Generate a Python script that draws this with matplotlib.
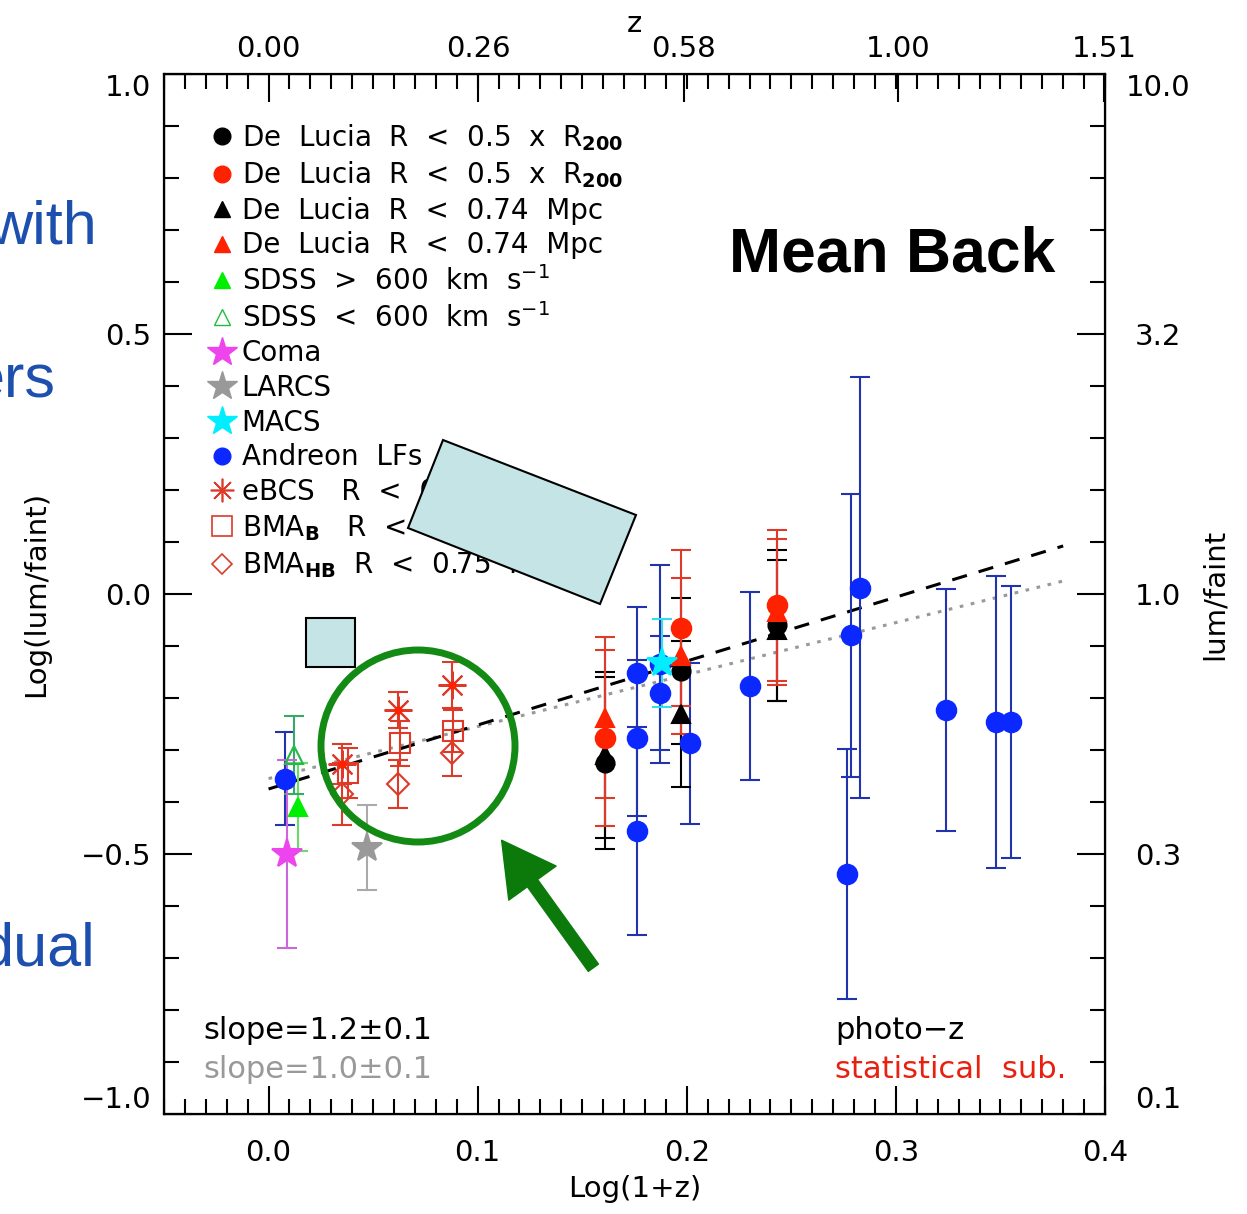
import numpy as np
import matplotlib
matplotlib.use("Agg")
import matplotlib.pyplot as plt
from matplotlib.lines import Line2D
from matplotlib import patches
from matplotlib.ticker import MultipleLocator, FixedLocator

plt.rcParams['font.family'] = 'DejaVu Sans'
plt.rcParams['mathtext.fontset'] = 'dejavusans'

# ---- data ----
# De Lucia clusters (photo-z)
dl_x = [0.161, 0.197, 0.243]
dl_r05_black = [-0.325, -0.148, -0.060]
dl_r05_black_err = [0.165, 0.140, 0.145]
dl_r05_red = [-0.277, -0.065, -0.022]
dl_r05_red_err = [0.170, 0.150, 0.145]
dl_074_black = [-0.310, -0.231, -0.070]
dl_074_black_err = [0.160, 0.140, 0.135]
dl_074_red = [-0.238, -0.119, -0.035]
dl_074_red_err = [0.155, 0.150, 0.140]

# SDSS
sdss_hi_x, sdss_hi_y, sdss_hi_err = [0.014], [-0.410], [0.085]
sdss_lo_x, sdss_lo_y, sdss_lo_err = [0.012], [-0.310], [0.075]

# single clusters
coma_x, coma_y, coma_err = [0.009], [-0.500], [0.180]
larcs_x, larcs_y, larcs_err = [0.047], [-0.488], [0.082]
macs_x, macs_y, macs_err = [0.188], [-0.133], [0.085]

# Andreon LFs
andr_x = [0.008, 0.176, 0.176, 0.176, 0.187, 0.187, 0.2015, 0.230,
          0.2765, 0.2785, 0.283, 0.324, 0.348, 0.355]
andr_y = [-0.355, -0.152, -0.277, -0.456, -0.135, -0.190, -0.287, -0.177,
          -0.538, -0.079, 0.012, -0.223, -0.246, -0.246]
andr_err = [0.090, 0.127, 0.150, 0.200, 0.190, 0.110, 0.155, 0.180,
            0.240, 0.272, 0.405, 0.233, 0.280, 0.262]

# eBCS / BMA stacks
ebcs_x = [0.035, 0.062, 0.0876]
ebcs_y = [-0.327, -0.223, -0.175]
ebcs_err = [0.038, 0.035, 0.045]
bmab_x = [0.038, 0.063, 0.088]
bmab_y = [-0.344, -0.287, -0.263]
bmab_err = [0.048, 0.043, 0.040]
bmahb_x = [0.035, 0.062, 0.0876]
bmahb_y = [-0.385, -0.366, -0.306]
bmahb_err = [0.060, 0.046, 0.044]

# fits
fit_x = [0.0, 0.38]
fit_all = (-0.375, 1.23)
fit_grey = (-0.355, 1.0)

z_ticks = [0.00, 0.26, 0.58, 1.00, 1.51]
ratio_labels = ['0.1', '0.3', '1.0', '3.2', '10.0']

W, H = 1247, 1214
fig = plt.figure(figsize=(W / 100, H / 100), dpi=100)
ax = fig.add_axes([164 / W, 1 - 1114 / H, 941 / W, 1040 / H])

RED = '#ff2200'
RED_E = '#dd3a2a'
BLUE = '#0a28ff'
BLUE_E = '#2233b0'


def pts(x, y, err, marker, mc, ec, ms=14, mfc=None, z=3, mew=1.5):
    ax.errorbar(x, y, yerr=err, ls='none', marker=marker, color=mc, ecolor=ec, ms=ms,
                mfc=mc if mfc is None else mfc, mec=mc, mew=mew,
                elinewidth=1.5, capsize=7, capthick=1.5, zorder=z)


# fit lines
xx = np.array(fit_x)
ax.plot(xx, fit_grey[0] + fit_grey[1] * xx, ls=(0, (1.2, 2.5)), color='#999999', lw=2.2, zorder=2)
ax.plot(xx, fit_all[0] + fit_all[1] * xx, ls=(0, (5, 4)), color='black', lw=2.2, zorder=2)

pts(andr_x, andr_y, andr_err, 'o', BLUE, BLUE_E, ms=14)
pts(dl_x, dl_074_black, dl_074_black_err, '^', 'black', 'black', ms=13)
pts(dl_x, dl_r05_black, dl_r05_black_err, 'o', 'black', 'black', ms=13)
pts(dl_x, dl_074_red, dl_074_red_err, '^', RED, RED_E, ms=13)
pts(dl_x, dl_r05_red, dl_r05_red_err, 'o', RED, RED_E, ms=14)
pts(sdss_hi_x, sdss_hi_y, sdss_hi_err, '^', '#00ee00', '#66dd66', ms=13)
pts(sdss_lo_x, sdss_lo_y, sdss_lo_err, '^', '#22bb44', '#33aa66', ms=13, mfc='none')
pts(coma_x, coma_y, coma_err, '*', '#ee44ee', '#cc66dd', ms=22)
pts(larcs_x, larcs_y, larcs_err, '*', '#999999', '#aaaaaa', ms=22)
pts(macs_x, macs_y, macs_err, '*', '#00eeff', '#33ddee', ms=22)
pts(ebcs_x, ebcs_y, ebcs_err, (8, 2, 0), RED_E, RED_E, ms=20)
ax.plot(ebcs_x, ebcs_y, 'o', color=RED, ms=5, zorder=4)
pts(bmab_x, bmab_y, bmab_err, 's', RED_E, RED_E, ms=14, mfc='none')
pts(bmahb_x, bmahb_y, bmahb_err, 'D', RED_E, RED_E, ms=11, mfc='none')

ax.set_xlim(-0.05, 0.4)
ax.set_ylim(-1.0, 1.0)
ax.xaxis.set_major_locator(MultipleLocator(0.1))
ax.xaxis.set_minor_locator(MultipleLocator(0.01))
ax.yaxis.set_major_locator(FixedLocator([-1.0, -0.5, 0.0, 0.5, 1.0]))
ax.yaxis.set_minor_locator(MultipleLocator(0.1))
ax.xaxis.set_major_formatter(plt.FuncFormatter(lambda v, p: f'{v:.1f}'.replace('-', '\u2212')))
ax.yaxis.set_major_formatter(plt.FuncFormatter(lambda v, p: f'{v:.1f}'.replace('-', '\u2212')))
ax.tick_params(which='major', direction='in', length=20, width=1.5, labelsize=21)
ax.tick_params(which='minor', direction='in', length=11, width=1.5)
ax.tick_params(axis='x', pad=18)
ax.tick_params(axis='y', pad=9)
for s in ax.spines.values():
    s.set_linewidth(1.6)
ax.set_xlabel('Log(1+z)', fontsize=21, labelpad=6)
ax.set_ylabel('Log(lum/faint)', fontsize=21, labelpad=22)

# top axis: redshift
axt = ax.twiny()
axt.set_xlim(ax.get_xlim())
axt.xaxis.set_major_locator(FixedLocator(np.log10(1 + np.array(z_ticks))))
axt.set_xticklabels([f'{z:.2f}' for z in z_ticks])
axt.xaxis.set_minor_locator(MultipleLocator(0.01))
axt.tick_params(which='major', direction='in', length=20, width=1.5, labelsize=21, pad=8)
axt.tick_params(which='minor', direction='in', length=11, width=1.5)
axt.set_xlabel('z', fontsize=21, labelpad=2)

# right axis: lum/faint
axr = ax.twinx()
axr.set_ylim(ax.get_ylim())
axr.yaxis.set_major_locator(FixedLocator([-1.0, -0.5, 0.0, 0.5, 1.0]))
axr.set_yticklabels(ratio_labels, ha='center')
axr.yaxis.set_minor_locator(MultipleLocator(0.1))
axr.tick_params(which='major', direction='in', length=20, width=1.5, labelsize=21, pad=38)
axr.tick_params(which='minor', direction='in', length=11, width=1.5)
axr.set_ylabel('lum/faint', fontsize=21, labelpad=8)

# end labels sit inside the axis range, as IDL draws them
for a, attr in [(ax, 'label1'), (axr, 'label2')]:
    ticks = a.yaxis.get_major_ticks()
    getattr(ticks[0], attr).set_va('bottom')
    getattr(ticks[-1], attr).set_va('top')

# legend
handles = [
    Line2D([], [], ls='none', marker='o', color='black', ms=12),
    Line2D([], [], ls='none', marker='o', color=RED, ms=12),
    Line2D([], [], ls='none', marker='^', color='black', ms=12),
    Line2D([], [], ls='none', marker='^', color=RED, ms=12),
    Line2D([], [], ls='none', marker='^', color='#00ee00', ms=12),
    Line2D([], [], ls='none', marker='^', color='#22bb44', mfc='none', ms=12),
    Line2D([], [], ls='none', marker='*', color='#ee44ee', ms=22),
    Line2D([], [], ls='none', marker='*', color='#999999', ms=22),
    Line2D([], [], ls='none', marker='*', color='#00eeff', ms=22),
    Line2D([], [], ls='none', marker='o', color=BLUE, ms=12),
    Line2D([], [], ls='none', marker=(8, 2, 0), color=RED_E, ms=17, mew=1.2),
    Line2D([], [], ls='none', marker='s', color=RED_E, mfc='none', ms=14, mew=1.2),
    Line2D([], [], ls='none', marker='D', color=RED_E, mfc='none', ms=10, mew=1.2),
]
labels = [
    'De  Lucia  R  <  0.5  x  R$_{\\mathbf{200}}$',
    'De  Lucia  R  <  0.5  x  R$_{\\mathbf{200}}$',
    'De  Lucia  R  <  0.74  Mpc',
    'De  Lucia  R  <  0.74  Mpc',
    'SDSS  >  600  km  s$^{-1}$',
    'SDSS  <  600  km  s$^{-1}$',
    'Coma',
    'LARCS',
    'MACS',
    'Andreon  LFs',
    'eBCS   R  <  0.75  Mpc',
    'BMA$_{\\mathbf{B}}$   R  <  0.75  Mpc',
    'BMA$_{\\mathbf{HB}}$  R  <  0.75  Mpc',
]
ax.legend(handles, labels, loc='upper left', bbox_to_anchor=(0.05, 0.954),
          frameon=False, fontsize=20, handlelength=0.8, handletextpad=0.3,
          labelspacing=0.24, borderpad=0, borderaxespad=0)

ax.text(0.774, 0.826, 'Mean Back', transform=ax.transAxes, ha='center', va='center',
        fontsize=45, fontweight='bold', family='Liberation Sans')
ax.text(0.042, 0.080, 'slope=1.2\u00b10.1', transform=ax.transAxes, fontsize=22, va='center')
ax.text(0.042, 0.043, 'slope=1.0\u00b10.1', transform=ax.transAxes, fontsize=22, va='center',
        color='#999999')
ax.text(0.713, 0.080, 'photo\u2212z', transform=ax.transAxes, fontsize=22, va='center')
ax.text(0.713, 0.043, 'statistical  sub.', transform=ax.transAxes, fontsize=22, va='center',
        color='#e82010')

# slide overlays (pixel positions measured from top-left)
def inch(px, py):
    return (px / 100, (H - py) / 100)


box = patches.Polygon([inch(443, 440), inch(636, 515), inch(600, 604), inch(408, 528)],
                      closed=True, transform=fig.dpi_scale_trans, fc='#c5e4e6', ec='black',
                      lw=1.5, zorder=10)
fig.patches.append(box)
sq = patches.Rectangle(inch(306, 667), 0.49, 0.49, transform=fig.dpi_scale_trans,
                       fc='#c5e4e6', ec='black', lw=1.5, zorder=10)
fig.patches.append(sq)
ring = patches.Ellipse(inch(418, 746), 1.94, 1.92, transform=fig.dpi_scale_trans,
                       fc='none', ec='#138a13', lw=5, zorder=10)
fig.patches.append(ring)
arrow = patches.FancyArrowPatch(inch(595, 970), inch(500, 838), transform=fig.dpi_scale_trans,
                                arrowstyle='simple,head_length=3.8,head_width=4.2,tail_width=0.9',
                                mutation_scale=10, color='#0b7a0b', zorder=10)
fig.patches.append(arrow)

# slide text fragments, cut off at the left edge as in the reference
BLUE_TXT = '#1c4fae'
for txt, px, py in [('with', 97, 243), ('ers', 55, 397), ('dual', 95, 966)]:
    fig.text(px / W, 1 - py / H, txt, ha='right', va='baseline', fontsize=44,
             family='Liberation Sans', color=BLUE_TXT)

fig.savefig('out.png', dpi=100)
